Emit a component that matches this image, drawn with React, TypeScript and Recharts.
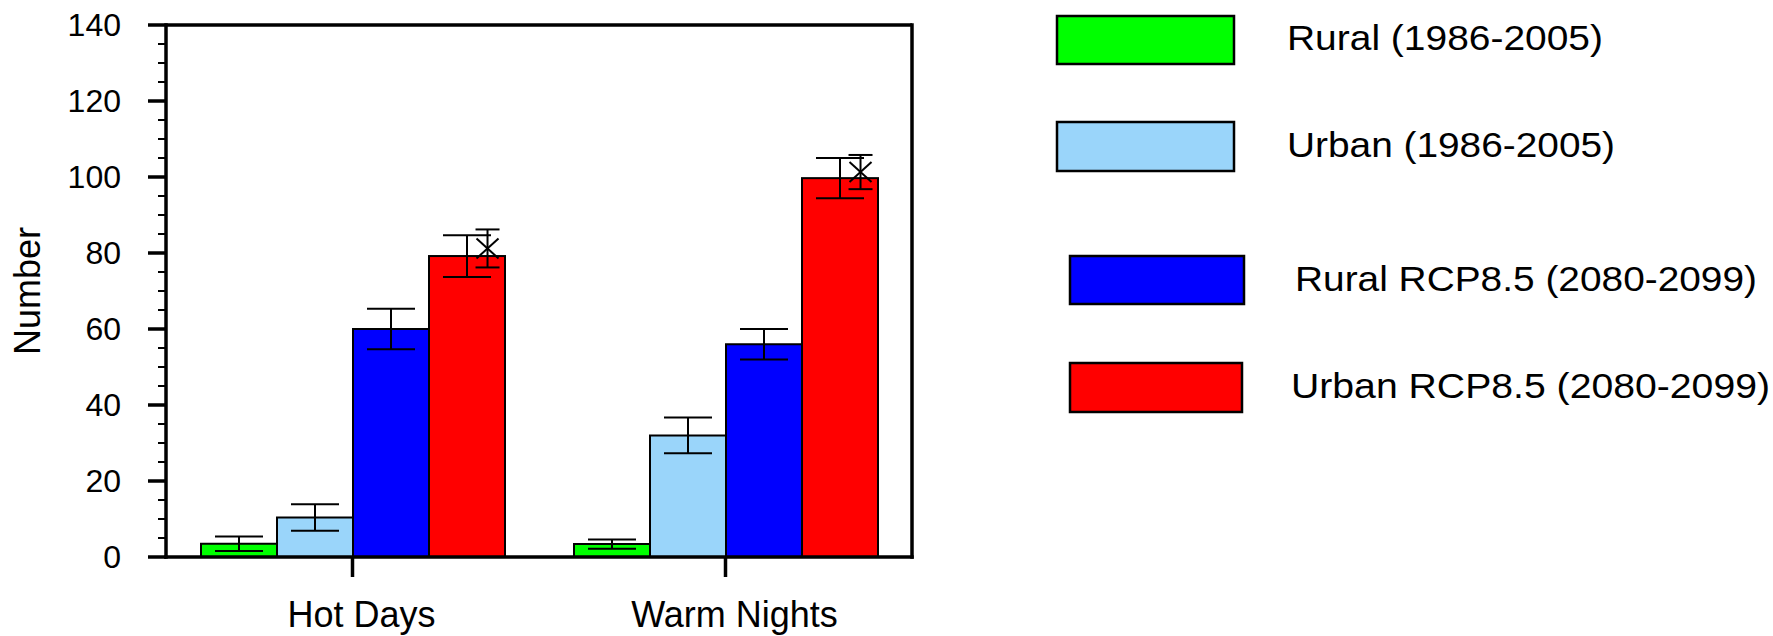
import React from 'react';
import { BarChart, Bar, XAxis, YAxis, ErrorBar, ReferenceLine } from 'recharts';

const categories = ['Hot Days', 'Warm Nights'];
const ruralHist = [3.5, 3.4];
const ruralHistErr = [1.9, 1.2];
const urbanHist = [10.4, 32.0];
const urbanHistErr = [3.5, 4.7];
const ruralRcp = [60.0, 56.0];
const ruralRcpErr = [5.3, 4.0];
const urbanRcp = [79.2, 99.7];
const urbanRcpErr = [5.5, 5.3];
const urbanMarker = [81.2, 101.3];
const urbanMarkerErr = [5.0, 4.5];

const yMajorTicks = [0, 20, 40, 60, 80, 100, 120, 140];
const yMinorStep = 5;
const yTicks: number[] = [];
for (let v = yMajorTicks[0]; v <= yMajorTicks[yMajorTicks.length - 1]; v += yMinorStep) yTicks.push(v);

const seriesKeys = ['ruralHist', 'urbanHist', 'ruralRcp', 'urbanRcp'];
const seriesNames = ['Rural (1986-2005)', 'Urban (1986-2005)', 'Rural RCP8.5 (2080-2099)', 'Urban RCP8.5 (2080-2099)'];
const seriesColors = ['#00FF00', '#9AD5FA', '#0000FF', '#FF0000'];

const data = categories.map((c, i) => ({
  category: c,
  ruralHist: ruralHist[i],
  ruralHistErr: ruralHistErr[i],
  urbanHist: urbanHist[i],
  urbanHistErr: urbanHistErr[i],
  ruralRcp: ruralRcp[i],
  ruralRcpErr: ruralRcpErr[i],
  urbanRcp: urbanRcp[i],
  urbanRcpErr: urbanRcpErr[i],
  urbanMarker: urbanMarker[i],
  urbanMarkerErr: urbanMarkerErr[i],
}));

const FONT = '"Liberation Sans", Arial, Helvetica, sans-serif';

const LeftTick = (props: any) => {
  const { x, y, payload } = props;
  const major = yMajorTicks.includes(payload.value);
  return (
    <g>
      <line x1={x - (major ? 18 : 8)} x2={x} y1={y} y2={y} stroke="#000" strokeWidth={major ? 3.5 : 2} />
      {major && (
        <text x={x - 45} y={y} textAnchor="end" dominantBaseline="central" fontSize={32} fontFamily={FONT} fill="#000">
          {payload.value}
        </text>
      )}
    </g>
  );
};

const RightTick = (props: any) => {
  const { x, y, payload } = props;
  const major = yMajorTicks.includes(payload.value);
  return <line x1={x} x2={x + (major ? 16 : 8)} y1={y} y2={y} stroke="#000" strokeWidth={major ? 3.5 : 2} />;
};

const BottomTick = (props: any) => {
  const { x, y, payload } = props;
  return (
    <g>
      <line x1={x} x2={x} y1={y} y2={y + 20} stroke="#000" strokeWidth={3.5} />
      <text x={x + 9} y={y + 70} textAnchor="middle" fontSize={36} fontFamily={FONT} fill="#000">
        {payload.value}
      </text>
    </g>
  );
};

const UrbanRcpShape = (props: any) => {
  const { x, y, width, height, payload, fill } = props;
  const ratio = height / payload.urbanRcp;
  const base = y + height;
  const mx = x + width * 0.77;
  const my = base - payload.urbanMarker * ratio;
  const e = payload.urbanMarkerErr * ratio;
  return (
    <g>
      <rect x={x} y={y} width={width} height={height} fill={fill} stroke="#000" strokeWidth={2} />
      <g stroke="#000" strokeWidth={2}>
        <line x1={mx} x2={mx} y1={my - e} y2={my + e} />
        <line x1={mx - 12} x2={mx + 12} y1={my - e} y2={my - e} />
        <line x1={mx - 12} x2={mx + 12} y1={my + e} y2={my + e} />
        <line x1={mx - 11} x2={mx + 11} y1={my - 10} y2={my + 10} />
        <line x1={mx - 11} x2={mx + 11} y1={my + 10} y2={my - 10} />
      </g>
    </g>
  );
};

const legendLayout = [
  { x: 1057, y: 16, w: 177, h: 48, tx: 1287, ty: 50, tl: 316 },
  { x: 1057, y: 122, w: 177, h: 49, tx: 1287, ty: 157, tl: 328 },
  { x: 1070, y: 256, w: 174, h: 48, tx: 1295, ty: 291, tl: 462 },
  { x: 1070, y: 363, w: 172, h: 49, tx: 1291, ty: 398, tl: 479 },
];

export default function App() {
  return (
    <div style={{ position: 'absolute', left: 0, top: 0, width: 1773, height: 636, background: '#fff' }}>
      <BarChart
        width={1773}
        height={636}
        data={data}
        margin={{ top: 25, right: 841, bottom: 19, left: 0 }}
        barCategoryGap={35}
        barGap={0}
      >
        <XAxis
          dataKey="category"
          height={60}
          axisLine={{ stroke: '#000', strokeWidth: 3.5, strokeLinecap: 'square' }}
          tickLine={false}
          tickSize={0}
          tickMargin={0}
          tick={<BottomTick />}
          interval={0}
        />
        <YAxis
          yAxisId="left"
          width={166}
          domain={[0, 140]}
          ticks={yTicks}
          interval={0}
          tickSize={0}
          tickMargin={0}
          tickLine={false}
          axisLine={{ stroke: '#000', strokeWidth: 3.5, strokeLinecap: 'square' }}
          tick={<LeftTick />}
          label={(p: any) => {
            const vb = p.viewBox || { x: 0, y: 25, width: 166, height: 532 };
            const cx = vb.x + 27;
            const cy = vb.y + vb.height / 2;
            return (
              <text x={cx} y={cy} transform={`rotate(-90 ${cx} ${cy})`} textAnchor="middle" dominantBaseline="central" fontSize={36} fontFamily={FONT} fill="#000">
                Number
              </text>
            );
          }}
        />
        <YAxis
          yAxisId="right"
          orientation="right"
          width={20}
          domain={[0, 140]}
          ticks={yTicks}
          interval={0}
          tickSize={0}
          tickMargin={0}
          tickLine={false}
          axisLine={{ stroke: '#000', strokeWidth: 3.5, strokeLinecap: 'square' }}
          tick={<RightTick />}
        />
        <ReferenceLine yAxisId="left" y={140} stroke="#000" strokeWidth={3.5} />
        <Bar yAxisId="left" dataKey={seriesKeys[0]} name={seriesNames[0]} fill={seriesColors[0]} stroke="#000" strokeWidth={2} isAnimationActive={false}>
          <ErrorBar dataKey="ruralHistErr" width={24} stroke="#000" strokeWidth={2} direction="y" />
        </Bar>
        <Bar yAxisId="left" dataKey={seriesKeys[1]} name={seriesNames[1]} fill={seriesColors[1]} stroke="#000" strokeWidth={2} isAnimationActive={false}>
          <ErrorBar dataKey="urbanHistErr" width={24} stroke="#000" strokeWidth={2} direction="y" />
        </Bar>
        <Bar yAxisId="left" dataKey={seriesKeys[2]} name={seriesNames[2]} fill={seriesColors[2]} stroke="#000" strokeWidth={2} isAnimationActive={false}>
          <ErrorBar dataKey="ruralRcpErr" width={24} stroke="#000" strokeWidth={2} direction="y" />
        </Bar>
        <Bar yAxisId="left" dataKey={seriesKeys[3]} name={seriesNames[3]} fill={seriesColors[3]} stroke="#000" strokeWidth={2} isAnimationActive={false} shape={<UrbanRcpShape />}>
          <ErrorBar dataKey="urbanRcpErr" width={24} stroke="#000" strokeWidth={2} direction="y" />
        </Bar>
      </BarChart>
      <svg width={1773} height={636} style={{ position: 'absolute', left: 0, top: 0, pointerEvents: 'none' }}>
        {seriesNames.map((name, i) => {
          const l = legendLayout[i];
          return (
            <g key={name}>
              <rect x={l.x} y={l.y} width={l.w} height={l.h} fill={seriesColors[i]} stroke="#000" strokeWidth={2.5} />
              <text x={l.tx} y={l.ty} fontSize={35} textLength={l.tl} lengthAdjust="spacingAndGlyphs" fontFamily={FONT} fill="#000">
                {name}
              </text>
            </g>
          );
        })}
      </svg>
    </div>
  );
}
